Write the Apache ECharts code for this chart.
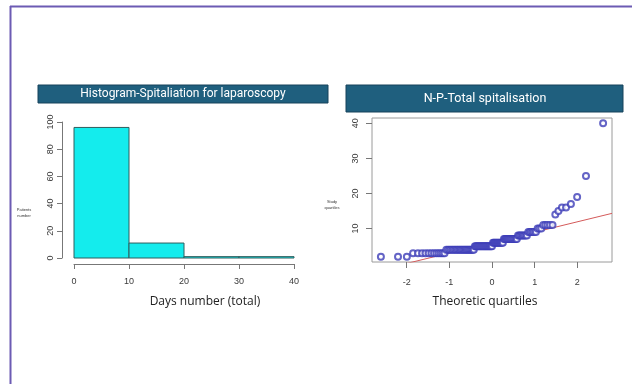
<!DOCTYPE html>
<html>
<head>
<meta charset="utf-8">
<script src="https://cdn.jsdelivr.net/npm/echarts@6/dist/echarts.min.js"></script>
<style>html,body{margin:0;padding:0;background:#fff}#c{width:632px;height:384px}</style>
</head>
<body>
<div id="c"></div>
<script>
// ---- Histogram data ----
const histBinStarts = [0, 10, 20, 30];
const histBinEnds = [10, 20, 30, 40];
const histCounts = [96, 11, 1, 1];
const histXTicks = [0, 10, 20, 30, 40];
const histYTicks = [0, 20, 40, 60, 80, 100];

// ---- Normal probability plot data (study values and how many times each occurs) ----
const qqLevels = [2, 3, 4, 5, 6, 7, 8, 9, 10, 11, 14, 15, 16, 17, 19, 25, 40];
const qqCounts = [3, 12, 22, 18, 11, 13, 8, 6, 3, 5, 1, 1, 2, 1, 1, 1, 1];
const qqXTicks = [-2, -1, 0, 1, 2];
const qqYTicks = [10, 20, 30, 40];

// texts
const titleLeft = 'Histogram-Spitaliation for laparoscopy';
const titleRight = 'N-P-Total spitalisation';
const xTitleLeft = 'Days number (total)';
const xTitleRight = 'Theoretic quartiles';

// inverse standard normal (Acklam)
function qnorm(p){
  const a=[-3.969683028665376e+01,2.209460984245205e+02,-2.759285104469687e+02,1.383577518672690e+02,-3.066479806614716e+01,2.506628277459239e+00];
  const b=[-5.447609879822406e+01,1.615858368580409e+02,-1.556989798598866e+02,6.680131188771972e+01,-1.328068155288572e+01];
  const c=[-7.784894002430293e-03,-3.223964580411365e-01,-2.400758277161838e+00,-2.549732539343734e+00,4.374664141464968e+00,2.938163982698783e+00];
  const d=[7.784695709041462e-03,3.224671290700398e-01,2.445134137142996e+00,3.754408661907416e+00];
  const pl=0.02425;
  if(p<pl){const q=Math.sqrt(-2*Math.log(p));return (((((c[0]*q+c[1])*q+c[2])*q+c[3])*q+c[4])*q+c[5])/((((d[0]*q+d[1])*q+d[2])*q+d[3])*q+1);}
  if(p<=1-pl){const q=p-0.5,r=q*q;return (((((a[0]*r+a[1])*r+a[2])*r+a[3])*r+a[4])*r+a[5])*q/(((((b[0]*r+b[1])*r+b[2])*r+b[3])*r+b[4])*r+1);}
  const q=Math.sqrt(-2*Math.log(1-p));return -(((((c[0]*q+c[1])*q+c[2])*q+c[3])*q+c[4])*q+c[5])/((((d[0]*q+d[1])*q+d[2])*q+d[3])*q+1);
}

// sorted sample
const sample = [];
qqLevels.forEach((v,i)=>{ for(let k=0;k<qqCounts[i];k++) sample.push(v); });
const n = sample.length;
const theo = sample.map((v,i)=>qnorm((i+1-0.5)/n));
const qqPoints = sample.map((v,i)=>[theo[i], v]);
function quant(arr,p){const h=(arr.length-1)*p;const lo=Math.floor(h);const hi=Math.min(lo+1,arr.length-1);return arr[lo]+(h-lo)*(arr[hi]-arr[lo]);}
const zq1 = qnorm(0.25), zq3 = qnorm(0.75);
const yq1 = quant(sample,0.25), yq3 = quant(sample,0.75);
const slope = (yq3-yq1)/(zq3-zq1);
const intercept = yq1 - slope*zq1;
function ext(lo,hi){const r=hi-lo;return [lo-0.04*r, hi+0.04*r];}
const xr = ext(theo[0], theo[n-1]);
const yr = ext(sample[0], sample[n-1]);
const qqLine = [[xr[0], intercept+slope*xr[0]],[xr[1], intercept+slope*xr[1]]];

const histData = histBinStarts.map((s,i)=>[s, histBinEnds[i], histCounts[i]]);

const tickFont = {fontFamily:'Liberation Sans', fontSize:9, color:'#3a3a3a'};
const chart = echarts.init(document.getElementById('c'));
chart.setOption({
  animation:false,
  backgroundColor:'#ffffff',
  grid:[
    {left:74, top:122, width:220, height:136, show:false},
    {left:372, top:118, width:240, height:144, show:true, borderColor:'#9a9a9a', borderWidth:1, backgroundColor:'transparent'}
  ],
  xAxis:[
    {gridIndex:0, type:'value', min:histXTicks[0], max:histXTicks[histXTicks.length-1], interval:10, offset:6,
     axisLine:{show:true, onZero:false, lineStyle:{color:'#777', width:1}},
     axisTick:{show:true, length:5, lineStyle:{color:'#777'}},
     axisLabel:Object.assign({margin:13}, tickFont),
     splitLine:{show:false}},
    {gridIndex:1, type:'value', min:xr[0], max:xr[1],
     axisLine:{show:false, onZero:false},
     axisTick:{show:true, length:6, customValues:qqXTicks, lineStyle:{color:'#777'}},
     axisLabel:Object.assign({margin:16, customValues:qqXTicks}, tickFont),
     splitLine:{show:false}}
  ],
  yAxis:[
    {gridIndex:0, type:'value', min:histYTicks[0], max:histYTicks[histYTicks.length-1], interval:20, offset:12,
     axisLine:{show:true, onZero:false, lineStyle:{color:'#777', width:1}},
     axisTick:{show:true, length:5, lineStyle:{color:'#777'}},
     axisLabel:Object.assign({margin:7, rotate:90}, tickFont),
     splitLine:{show:false}},
    {gridIndex:1, type:'value', min:yr[0], max:yr[1],
     axisLine:{show:false, onZero:false},
     axisTick:{show:true, length:6, customValues:qqYTicks, lineStyle:{color:'#777'}},
     axisLabel:Object.assign({margin:12, rotate:90, customValues:qqYTicks}, tickFont),
     splitLine:{show:false}}
  ],
  series:[
    {type:'custom', xAxisIndex:0, yAxisIndex:0, data:histData, encode:{x:[0,1], y:2},
     renderItem:function(params, api){
       const p0 = api.coord([api.value(0), api.value(2)]);
       const p1 = api.coord([api.value(1), 0]);
       return {type:'rect', shape:{x:p0[0], y:p0[1], width:p1[0]-p0[0], height:p1[1]-p0[1]},
               style:{fill:'#14eced', stroke:'#2f5e5e', lineWidth:1}};
     }},
    {type:'line', xAxisIndex:1, yAxisIndex:1, data:qqLine, showSymbol:false, symbol:'none', clip:true,
     lineStyle:{color:'#d45a5a', width:1}, z:1},
    {type:'scatter', xAxisIndex:1, yAxisIndex:1, data:qqPoints, symbol:'emptyCircle', symbolSize:6,
     itemStyle:{color:'#3d3db8', borderWidth:1}, z:2}
  ],
  graphic:[
    {type:'line', shape:{x1:10, y1:6.5, x2:632, y2:6.5}, style:{stroke:'#6c5bb3', lineWidth:2}},
    {type:'line', shape:{x1:10.5, y1:6, x2:10.5, y2:384}, style:{stroke:'#6c5bb3', lineWidth:2}},
    {type:'rect', shape:{x:38, y:85, width:290, height:18}, style:{fill:'#1f5f7e', stroke:'#16435a', lineWidth:1}},
    {type:'text', x:183, y:94, style:{text:titleLeft, fill:'#ffffff', font:'12px Roboto', textAlign:'center', textVerticalAlign:'middle'}},
    {type:'rect', shape:{x:346, y:85, width:277, height:27}, style:{fill:'#1f5f7e', stroke:'#16435a', lineWidth:1}},
    {type:'text', x:485, y:98.5, style:{text:titleRight, fill:'#ffffff', font:'12.5px Roboto', textAlign:'center', textVerticalAlign:'middle'}},
    {type:'text', x:205, y:302, style:{text:xTitleLeft, fill:'#222', font:'12px "Open Sans"', textAlign:'center', textVerticalAlign:'middle'}},
    {type:'text', x:485, y:302, style:{text:xTitleRight, fill:'#222', font:'12px "Open Sans"', textAlign:'center', textVerticalAlign:'middle'}},
    {type:'text', x:24, y:213, style:{text:'Patients\nnumber', fill:'#333', font:'4px "Liberation Sans"', textAlign:'center', textVerticalAlign:'middle', lineHeight:6}},
    {type:'text', x:332, y:205, style:{text:'Study\nquartiles', fill:'#333', font:'4px "Liberation Sans"', textAlign:'center', textVerticalAlign:'middle', lineHeight:6}}
  ]
});
</script>
</body>
</html>
